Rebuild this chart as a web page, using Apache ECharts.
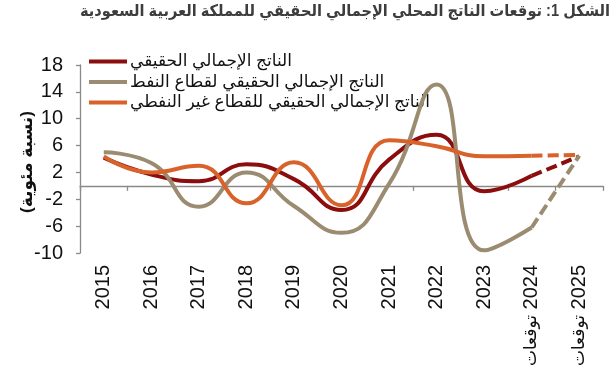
<!DOCTYPE html>
<html><head><meta charset="utf-8">
<script src="https://cdn.jsdelivr.net/npm/echarts@6/dist/echarts.min.js"></script>
<style>html,body{margin:0;padding:0;background:#fff}#c{width:616px;height:380px}</style>
</head><body><div id="c"></div>
<script>
const categories = ['2015','2016','2017','2018','2019','2020','2021','2022','2023','2024','2025'];
const forecastWord = ['','','','','','','','','','توقعات','توقعات'];
const gdp    = [4.2, 1.7, 0.7, 3.2, 1.0, -3.6, 3.9, 7.6, -0.8, 1.5, 4.4];
const oil    = [5.0, 3.4, -3.1, 2.0, -3.0, -7.0, 0.3, 15.1, -9.6, -6.2, 4.5];
const nonOil = [4.4, 2.0, 3.0, -2.6, 3.5, -2.9, 6.8, 5.9, 4.4, 4.5, 4.6];
const names = ['الناتج الإجمالي الحقيقي','الناتج الإجمالي الحقيقي لقطاع النفط','الناتج الإجمالي الحقيقي للقطاع غير النفطي'];
const colors = ['#8b0d0d','#9b8c71','#d8622a'];
const yTicks = {min:-10, max:18, interval:4};
const title = 'الشكل 1: توقعات الناتج المحلي الإجمالي الحقيقي للمملكة العربية السعودية';
const yName = '(نسبة مئوية)';
const lastSolid = categories.length - 2;

function solidPart(arr){ return arr.map((v,i)=> i<=lastSolid ? v : null); }
function dashPart(arr){ return arr.map((v,i)=> i>=lastSolid ? v : null); }

const font = 'Liberation Sans, Arial, DejaVu Sans, sans-serif';
const titleFont = 'bold 16px ' + font;
const mctx = document.createElement('canvas').getContext('2d');
mctx.font = titleFont;
const titleW = mctx.measureText(title).width;
const titleScale = Math.min(1, 530 / titleW);

const chart = echarts.init(document.getElementById('c'), null, {renderer:'canvas'});
const allData = [gdp, oil, nonOil];
const SM = 0.5;
const series = [];
allData.forEach((d,k)=>{
  series.push({name:names[k], type:'line', data:solidPart(d), smooth:SM, symbol:'none', z:3+k,
    lineStyle:{color:colors[k], width:4}, itemStyle:{color:colors[k]}});
});
allData.forEach((d,k)=>{
  series.push({name:names[k], type:'line', data:dashPart(d), smooth:SM, symbol:'none', z:3+k,
    lineStyle:{color:colors[k], width:4, type:[11,5]}, itemStyle:{color:colors[k]}});
});
chart.setOption({
  animation:false,
  backgroundColor:'#fff',
  legend:{data:names, orient:'vertical', left:84, top:48, icon:'rect', itemWidth:38, itemHeight:4, itemGap:3.5,
    textStyle:{fontFamily:font, fontSize:17, color:'#111', lineHeight:17, padding:[0,0,0,-2]}},
  grid:{left:80, right:13, top:65, bottom:127, containLabel:false, outerBoundsMode:'none'},
  xAxis:[
    {type:'category', data:categories, boundaryGap:true, position:'bottom',
     axisLine:{show:false, onZero:false}, axisTick:{show:false},
     axisLabel:{rotate:90, margin:12, fontFamily:font, fontSize:20, color:'#111', interval:0,
       formatter:(v,i)=> forecastWord[i] ? '{f|' + forecastWord[i] + '} ' + v : v,
       rich:{f:{fontFamily:font, fontSize:17, color:'#111'}}}},
    {type:'category', data:categories, boundaryGap:true, position:'bottom',
     axisLine:{show:true, onZero:true, lineStyle:{color:'#8a8a8a', width:1.3}},
     axisTick:{show:true, length:5, lineStyle:{color:'#8a8a8a', width:1.3}},
     axisLabel:{show:false}, splitLine:{show:false}}
  ],
  yAxis:{type:'value', min:yTicks.min, max:yTicks.max, interval:yTicks.interval,
    axisLine:{show:true, lineStyle:{color:'#8a8a8a', width:1.3}},
    axisTick:{show:true, length:4, lineStyle:{color:'#8a8a8a', width:1.3}},
    splitLine:{show:false},
    axisLabel:{margin:17, fontFamily:font, fontSize:20, color:'#111'}},
  graphic:[
    {type:'text', x:27, y:162, rotation:Math.PI/2,
     style:{text:yName, fontFamily:font, fontWeight:'bold', fontSize:17, fill:'#111', align:'center', verticalAlign:'middle'}},
    {type:'text', x:610, y:4, scaleX:titleScale, originX:0, originY:0,
     style:{text:title, font:titleFont, fill:'#3d3d3d', align:'right', verticalAlign:'top'}}
  ],
  series:series
});
</script></body></html>
